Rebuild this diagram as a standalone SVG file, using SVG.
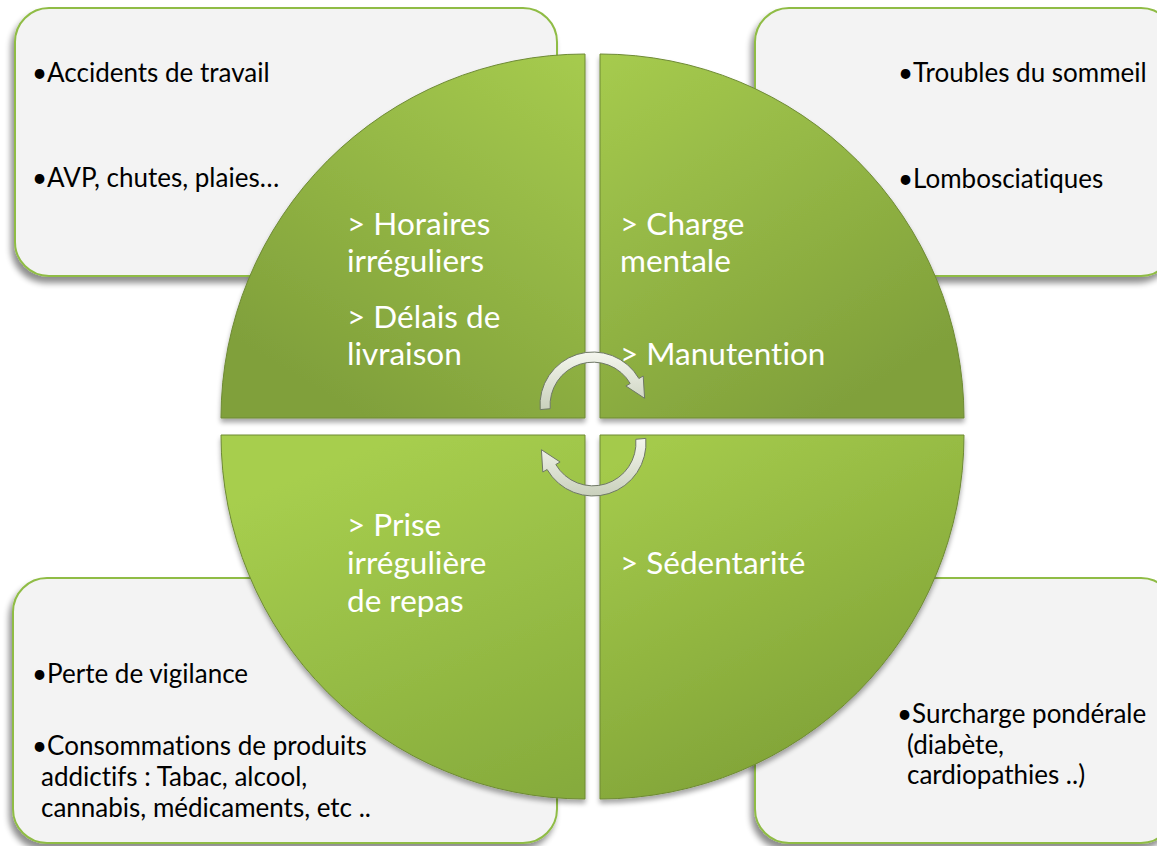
<svg xmlns="http://www.w3.org/2000/svg" width="1157" height="846" viewBox="0 0 1157 846">
<defs>
<filter id="shadow" x="-10%" y="-10%" width="120%" height="125%">
<feGaussianBlur in="SourceAlpha" stdDeviation="3"/>
<feOffset dx="-3" dy="6" result="b"/>
<feComponentTransfer><feFuncA type="linear" slope="0.45"/></feComponentTransfer>
<feMerge><feMergeNode/><feMergeNode in="SourceGraphic"/></feMerge>
</filter>
<filter id="qshadow" x="-10%" y="-10%" width="120%" height="120%">
<feGaussianBlur in="SourceAlpha" stdDeviation="2.5"/>
<feOffset dx="0" dy="4" result="b"/>
<feComponentTransfer><feFuncA type="linear" slope="0.35"/></feComponentTransfer>
<feMerge><feMergeNode/><feMergeNode in="SourceGraphic"/></feMerge>
</filter>
<linearGradient id="gTop" x1="1" y1="0" x2="0.4" y2="1">
<stop offset="0" stop-color="#a6cb4e"/>
<stop offset="1" stop-color="#80a03b"/>
</linearGradient>
<linearGradient id="gTopR" x1="0" y1="0" x2="0.6" y2="1">
<stop offset="0" stop-color="#a6cb4e"/>
<stop offset="1" stop-color="#80a03b"/>
</linearGradient>
<linearGradient id="gBot" x1="0.5" y1="0" x2="0.9" y2="1">
<stop offset="0" stop-color="#a7ce4e"/>
<stop offset="1" stop-color="#86ab3c"/>
</linearGradient>
<linearGradient id="gBotR" x1="0.2" y1="0" x2="0.7" y2="1">
<stop offset="0" stop-color="#a4ca4b"/>
<stop offset="1" stop-color="#7c9e35"/>
</linearGradient>
<linearGradient id="gArrow" x1="0" y1="0" x2="0" y2="1">
<stop offset="0" stop-color="#f4f6ee"/>
<stop offset="1" stop-color="#c9d0bc"/>
</linearGradient>
<style>
.box{fill:#f3f3f3;stroke:#8fbc45;stroke-width:2;filter:url(#shadow)}
.quad{stroke:#6e8a34;stroke-width:1;filter:url(#qshadow)}
.bt{font-family:Lato,"Open Sans",sans-serif;font-size:26px;fill:#000;font-variant-ligatures:none}
.pt{font-family:Lato,"Open Sans",sans-serif;font-size:31.5px;fill:#fff;font-variant-ligatures:none}
.arrow{fill:url(#gArrow);stroke:#6f7866;stroke-width:1}
</style>
</defs>
<rect width="1157" height="846" fill="#fff"/>

<g id="box-tl"><rect class="box" x="15" y="8" width="542" height="268" rx="34"/>
<text class="bt" x="32" y="82">•Accidents de travail</text>
<text class="bt" x="32" y="187">•AVP, chutes, plaies…</text></g>

<g id="box-tr"><rect class="box" x="755" y="8" width="420" height="268" rx="34"/>
<text class="bt" x="898" y="82">•Troubles du sommeil</text>
<text class="bt" x="898" y="188">•Lombosciatiques</text></g>

<g id="box-bl"><rect class="box" x="13" y="578" width="544" height="265" rx="34"/>
<text class="bt" x="32" y="683">•Perte de vigilance</text>
<text class="bt" x="32" y="755">•Consommations de produits</text>
<text class="bt" x="41" y="786">addictifs : Tabac, alcool,</text>
<text class="bt" x="41" y="817">cannabis, médicaments, etc ..</text></g>

<g id="box-br"><rect class="box" x="755" y="578" width="420" height="265" rx="34"/>
<text class="bt" x="897" y="723">•Surcharge pondérale</text>
<text class="bt" x="907" y="754">(diabète,</text>
<text class="bt" x="907" y="784">cardiopathies ..)</text></g>

<g id="quad-tl"><path class="quad" fill="url(#gTop)" d="M585,418 L221,418 A364,364 0 0 1 585,54 Z"/>
<text class="pt" x="347" y="235">&gt; Horaires</text>
<text class="pt" x="347" y="272">irréguliers</text>
<text class="pt" x="347" y="328">&gt; Délais de</text>
<text class="pt" x="347" y="365">livraison</text></g>

<g id="quad-tr"><path class="quad" fill="url(#gTopR)" d="M600,418 L600,54 A364,364 0 0 1 964,418 Z"/>
<text class="pt" x="620" y="235">&gt; Charge</text>
<text class="pt" x="620" y="272">mentale</text>
<text class="pt" x="620" y="365">&gt; Manutention</text></g>

<g id="quad-bl"><path class="quad" fill="url(#gBot)" d="M585,435 L221,435 A364,364 0 0 0 585,799 Z"/>
<text class="pt" x="347" y="536">&gt; Prise</text>
<text class="pt" x="347" y="574">irrégulière</text>
<text class="pt" x="347" y="612">de repas</text></g>

<g id="quad-br"><path class="quad" fill="url(#gBotR)" d="M600,435 L964,435 A364,364 0 0 1 600,799 Z"/>
<text class="pt" x="620" y="574">&gt; Sédentarité</text></g>

<g id="connectors">
<path class="arrow" d="M540.2,409.6 A53,53 0 0 1 638.9,378.5 L643.2,376 L644.6,398.3 L625.9,386 L630.2,383.5 A43,43 0 0 0 550.2,408.7 Z"/>
<path class="arrow" d="M645.8,438.4 A53,53 0 0 1 547.1,469.5 L542.8,472 L541.4,449.7 L560.1,462 L555.8,464.5 A43,43 0 0 0 635.8,439.3 Z"/>
</g>
</svg>
